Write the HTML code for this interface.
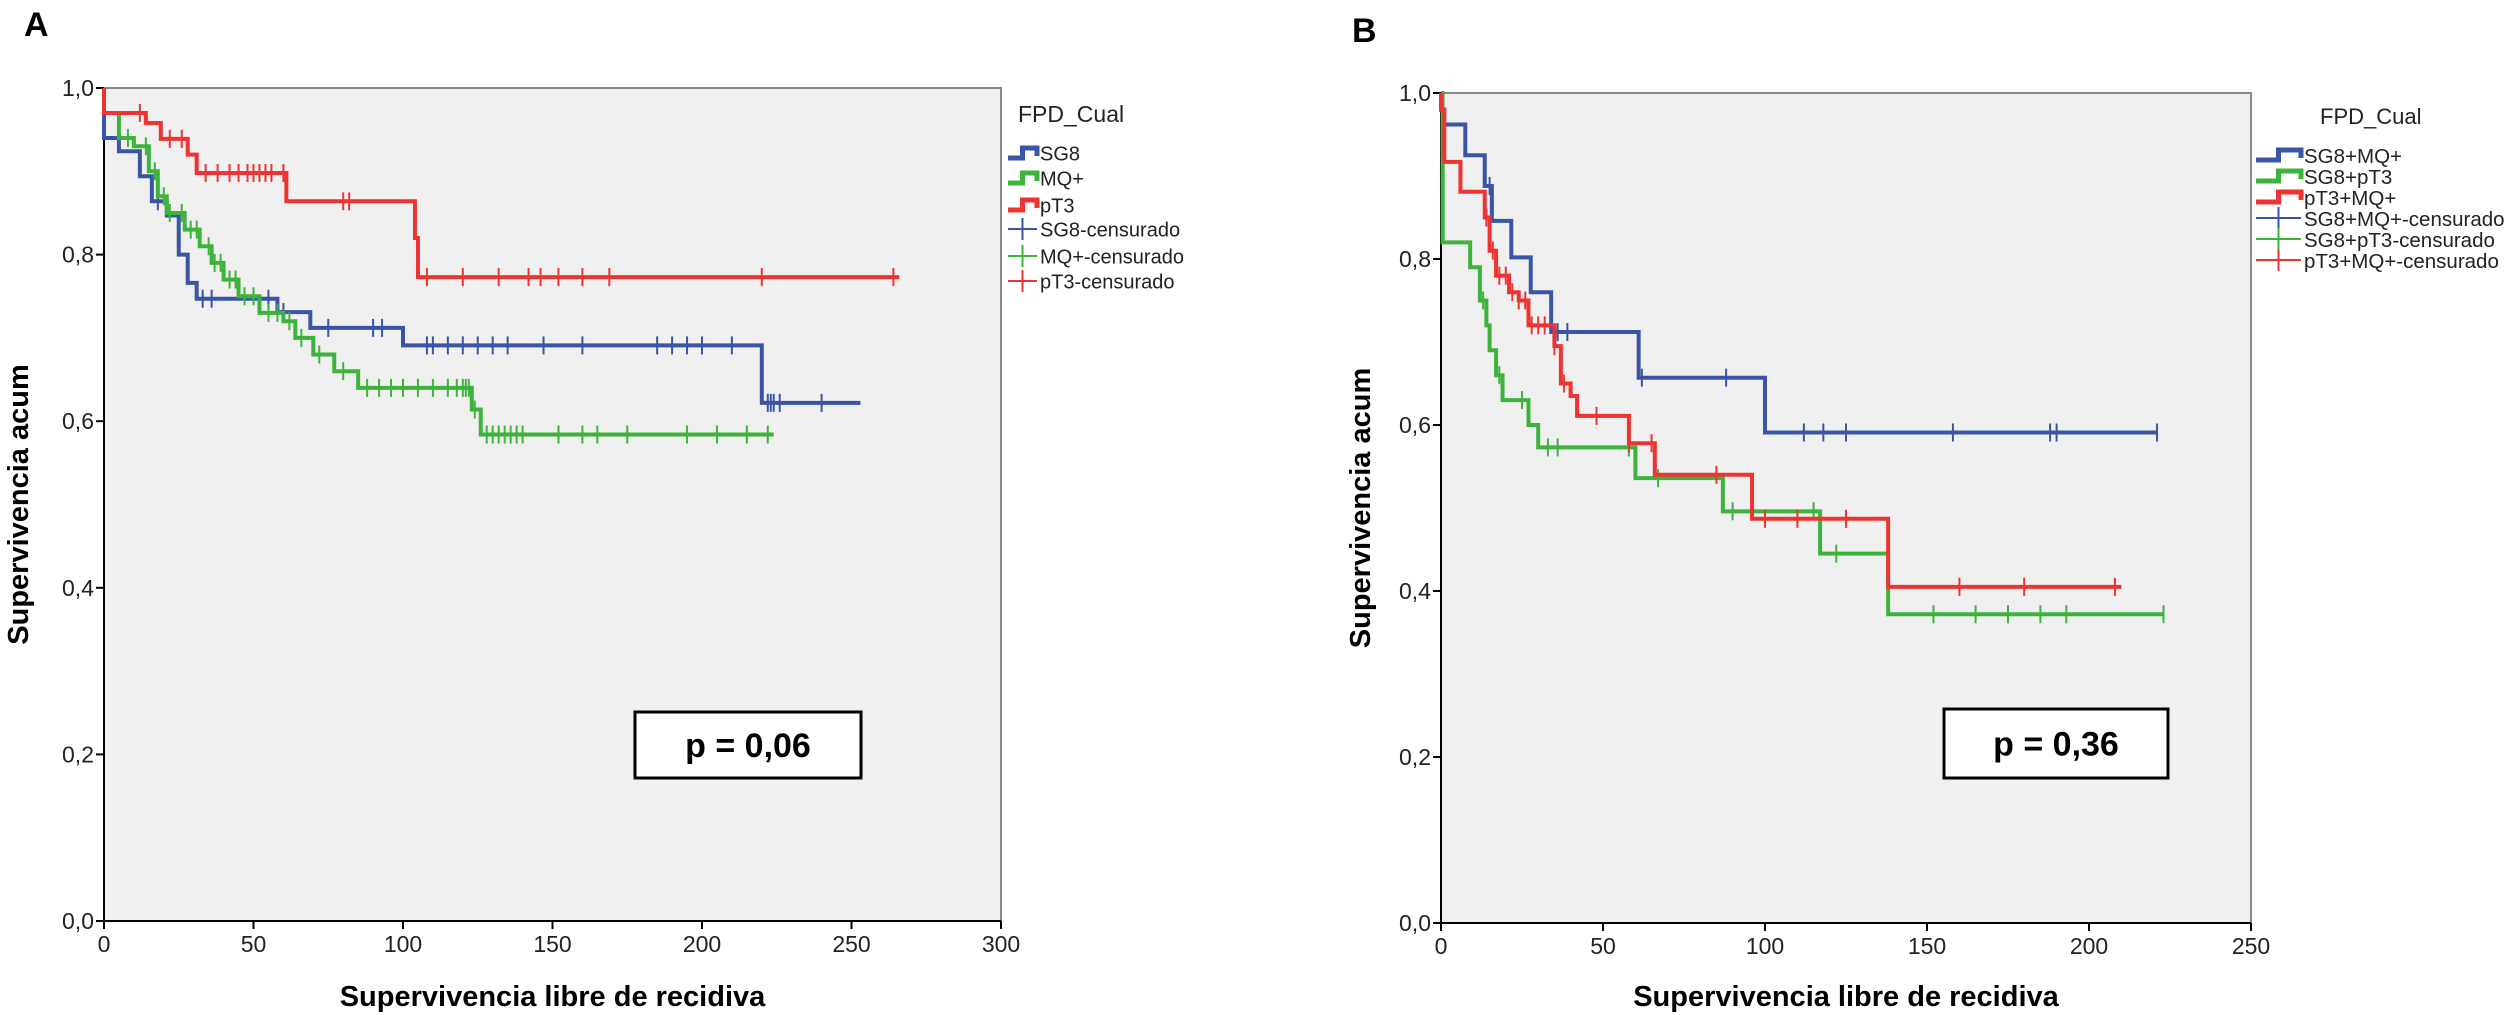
<!DOCTYPE html>
<html><head><meta charset="utf-8"><style>
body{margin:0;background:#fff;}
svg{display:block;font-family:"Liberation Sans",Arial,sans-serif;}
</style></head><body>
<svg id="chart" width="2508" height="1015" viewBox="0 0 2508 1015" xmlns="http://www.w3.org/2000/svg">
<text x="24" y="36" font-size="34" font-weight="bold">A</text>
<text x="1352" y="42" font-size="34" font-weight="bold">B</text>
<g id="pa"></g>
<g id="pb"></g>
</svg>
<script>
// Panel A data
const aXTicks=[0,50,100,150,200,250,300];
const aYTicks=[0,0.2,0.4,0.6,0.8,1.0];
const aBlueT=[0,5,12,16,21,25,28,31,58,69,100,220,253];
const aBlueS=[0.94,0.924,0.894,0.864,0.847,0.80,0.766,0.747,0.731,0.712,0.691,0.622,0.622];
const aBlueC=[18,33,36,55,60,75,90,93,108,110,115,120,125,130,135,147,160,185,190,195,200,210,222,223,224,226,240];
const aGreenT=[0,5,10,15,18,21,27,32,36,40,45,52,60,64,70,77,85,123,126,224];
const aGreenS=[0.97,0.94,0.93,0.90,0.87,0.85,0.83,0.81,0.79,0.77,0.75,0.73,0.72,0.70,0.68,0.66,0.64,0.614,0.584,0.584];
const aGreenC=[8,14,17,20,22,26,29,31,35,37,39,42,44,47,50,55,58,62,66,72,80,88,92,96,100,105,110,115,118,120,121,122,124,128,130,132,134,136,138,140,152,160,165,175,195,205,215,222];
const aRedT=[0,14,19,28,31,61,104,105,266];
const aRedS=[0.97,0.958,0.939,0.92,0.898,0.864,0.82,0.773,0.773];
const aRedC=[12,22,26,34,38,42,45,48,50,52,54,56,60,80,82,108,120,132,142,146,152,160,169,220,264];
// Panel B data
const bXTicks=[0,50,100,150,200,250];
const bYTicks=[0,0.2,0.4,0.6,0.8,1.0];
const bBlueT=[0,1,7.5,13.5,15.7,21.7,27.7,34,61,100,221];
const bBlueS=[0.98,0.962,0.925,0.888,0.846,0.802,0.76,0.712,0.657,0.591,0.591];
const bBlueC=[15,36,39,62,88,112,118,125,158,188,190,221];
const bGreenT=[0,0.5,9,12,14,15,17,19,27,30,60,87,117,138,223];
const bGreenS=[1,0.82,0.79,0.75,0.72,0.69,0.66,0.63,0.60,0.573,0.536,0.496,0.445,0.372,0.372];
const bGreenC=[13,18,25,33,36,58,67,90,115,122,152,165,175,185,193,223];
const bRedT=[0,1,6,13.5,15,17,21,24,27,34,35,37,40,42,58,66,96,138,210];
const bRedS=[0.98,0.917,0.881,0.85,0.81,0.78,0.76,0.75,0.72,0.72,0.695,0.65,0.635,0.611,0.578,0.54,0.487,0.405,0.405];
const bRedC=[14,16,18,20,22,24,26,28,30,32,35,38,48,58,65,85,100,110,125,160,180,208];

const NS="http://www.w3.org/2000/svg";
function mk(parent,tag,attrs){const e=document.createElementNS(NS,tag);for(const k in attrs)e.setAttribute(k,attrs[k]);parent.appendChild(e);return e;}
function stepAt(T,S,t){let s=S[0];for(let i=0;i<T.length;i++){if(T[i]<=t)s=S[i];}return s;}

function panel(g,cfg){
  const X=v=>cfg.x0+(v-cfg.xmin)/(cfg.xmax-cfg.xmin)*(cfg.x1-cfg.x0);
  const Y=v=>cfg.y0-v*(cfg.y0-cfg.y1);
  const bg=mk(g,'rect',{x:cfg.x0,y:cfg.y1,width:cfg.x1-cfg.x0,height:cfg.y0-cfg.y1,fill:'#f0f0f0',stroke:'#888','stroke-width':2});
  
  
  const ax=mk(g,'line',{x1:cfg.x0,y1:cfg.y1,x2:cfg.x0,y2:cfg.y0,stroke:'#000','stroke-width':2});
  
  
  const bx=mk(g,'line',{x1:cfg.x0,y1:cfg.y0,x2:cfg.x1,y2:cfg.y0,stroke:'#000','stroke-width':2});
  
  
  cfg.yt.forEach(v=>{
    mk(g,'line',{x1:cfg.x0-8,y1:Y(v),x2:cfg.x0,y2:Y(v),stroke:'#000','stroke-width':2});
    const t=mk(g,'text',{x:cfg.x0-10,y:Y(v)+8,'font-size':23,'text-anchor':'end',fill:'#222'});
    t.textContent=v.toFixed(1).replace('.',',');
    
    
  });
  cfg.xt.forEach(v=>{
    mk(g,'line',{x1:X(v),y1:cfg.y0,x2:X(v),y2:cfg.y0+8,stroke:'#000','stroke-width':2});
    const t=mk(g,'text',{x:X(v),y:cfg.y0+31,'font-size':23,'text-anchor':'middle',fill:'#222'});
    t.textContent=v;
    
    
  });
  const xt=mk(g,'text',{x:(cfg.x0+cfg.x1)/2,y:1006,'font-size':29,'font-weight':'bold','text-anchor':'middle'});
  xt.textContent='Supervivencia libre de recidiva';
  
  
  const yt=mk(g,'text',{x:0,y:0,'font-size':29,'font-weight':'bold','text-anchor':'middle',transform:`translate(${cfg.ytx},${(cfg.y0+cfg.y1)/2}) rotate(-90)`});
  yt.textContent='Supervivencia acum';
  
  
  cfg.series.forEach(s=>{
    let d=`M${X(0)},${Y(1)}L${X(0)},${Y(s.S[0])}`;
    for(let i=1;i<s.T.length;i++){d+=`L${X(s.T[i])},${Y(s.S[i-1])}L${X(s.T[i])},${Y(s.S[i])}`;}
    const p=mk(g,'path',{d:d,fill:'none',stroke:s.c,'stroke-width':4});
    
    
    s.C.forEach(t=>{
      const yy=Y(stepAt(s.T,s.S,t));
      const m=mk(g,'line',{x1:X(t),y1:yy-9,x2:X(t),y2:yy+9,stroke:s.c,'stroke-width':2});
      
      
    });
  });
  // legend
  const L=cfg.leg;
  const lt=mk(g,'text',{x:L.tx,y:L.ty,'font-size':L.tfs,fill:'#222'});
  lt.textContent='FPD_Cual';
  
  
  cfg.series.forEach((s,i)=>{
    const y=L.y[i];
    const sym=mk(g,'path',{d:`M${L.x0},${y+5}L${L.x0+(L.x1-L.x0)/2},${y+5}L${L.x0+(L.x1-L.x0)/2},${y-5}L${L.x1},${y-5}L${L.x1},${y+3}`,fill:'none',stroke:s.c,'stroke-width':5});
    
    
    const tx=mk(g,'text',{x:L.x1+3,y:y+L.fs*0.38,'font-size':L.fs,fill:'#222'});
    tx.textContent=s.label;
    
    
    const y2=L.y[i+3];
    mk(g,'line',{x1:L.x0,y1:y2,x2:L.x1,y2:y2,stroke:s.c,'stroke-width':2});
    mk(g,'line',{x1:(L.x0+L.x1)/2,y1:y2-11,x2:(L.x0+L.x1)/2,y2:y2+11,stroke:s.c,'stroke-width':2});
    const tx2=mk(g,'text',{x:L.x1+3,y:y2+L.fs*0.38,'font-size':L.fs,fill:'#222'});
    tx2.textContent=s.label+'-censurado';
    
    
  });
  const pb=mk(g,'rect',{x:cfg.pbox[0],y:cfg.pbox[1],width:cfg.pbox[2],height:cfg.pbox[3],fill:'#fff',stroke:'#000','stroke-width':3});
  
  
  const pt=mk(g,'text',{x:cfg.pbox[0]+cfg.pbox[2]/2,y:cfg.pbox[1]+cfg.pbox[3]/2+12,'font-size':34,'font-weight':'bold','text-anchor':'middle'});
  pt.textContent=cfg.ptext;
  
  
}
panel(document.getElementById('pa'),{x0:104,x1:1001,y0:921,y1:88,xmin:0,xmax:300,xt:aXTicks,yt:aYTicks,ytx:28,
  series:[{name:'sg8',label:'SG8',c:'#3a55a5',T:aBlueT,S:aBlueS,C:aBlueC},
          {name:'mq',label:'MQ+',c:'#3cb43c',T:aGreenT,S:aGreenS,C:aGreenC},
          {name:'pt3',label:'pT3',c:'#ee3333',T:aRedT,S:aRedS,C:aRedC}],
  leg:{tx:1018,ty:122,tfs:23,x0:1008,x1:1037,fs:20,y:[153,178,205,229,256,281]},
  pbox:[635,712,226,66],ptext:'p = 0,06'});
panel(document.getElementById('pb'),{x0:1441,x1:2251,y0:923,y1:93,xmin:0,xmax:250,xt:bXTicks,yt:bYTicks,ytx:1370,
  series:[{name:'sg8-mq',label:'SG8+MQ+',c:'#3a55a5',T:bBlueT,S:bBlueS,C:bBlueC},
          {name:'sg8-pt3',label:'SG8+pT3',c:'#3cb43c',T:bGreenT,S:bGreenS,C:bGreenC},
          {name:'pt3-mq',label:'pT3+MQ+',c:'#ee3333',T:bRedT,S:bRedS,C:bRedC}],
  leg:{tx:2320,ty:124,tfs:22,x0:2256,x1:2301,fs:20.5,y:[155,176,197,218,239,260]},
  pbox:[1944,709,224,69],ptext:'p = 0,36'});
</script>
</body></html>
